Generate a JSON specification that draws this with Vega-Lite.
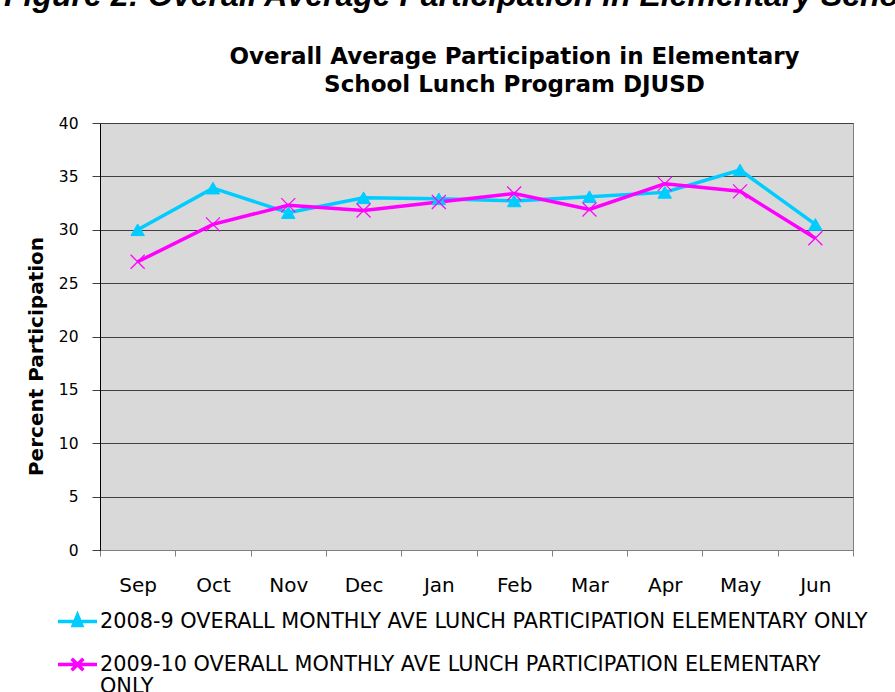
{
  "$schema": "https://vega.github.io/schema/vega-lite/v6.json",
  "width": 753,
  "height": 427,
  "autosize": {"type": "none"},
  "padding": {"left": 100, "top": 123, "right": 42, "bottom": 142},
  "background": "white",
  "title": {
    "text": "Figure 2: Overall Average Participation in Elementary School Lunch Program",
    "font": "Liberation Sans",
    "fontSize": 32,
    "fontStyle": "italic",
    "fontWeight": "bold",
    "color": "black",
    "anchor": "start",
    "frame": "group",
    "dx": -96,
    "offset": 32
  },
  "data": {
    "values": [
      {"month": "Sep", "series": "2008-9 OVERALL MONTHLY AVE LUNCH PARTICIPATION ELEMENTARY ONLY", "value": 30.0},
      {"month": "Oct", "series": "2008-9 OVERALL MONTHLY AVE LUNCH PARTICIPATION ELEMENTARY ONLY", "value": 33.9},
      {"month": "Nov", "series": "2008-9 OVERALL MONTHLY AVE LUNCH PARTICIPATION ELEMENTARY ONLY", "value": 31.6},
      {"month": "Dec", "series": "2008-9 OVERALL MONTHLY AVE LUNCH PARTICIPATION ELEMENTARY ONLY", "value": 33.0},
      {"month": "Jan", "series": "2008-9 OVERALL MONTHLY AVE LUNCH PARTICIPATION ELEMENTARY ONLY", "value": 32.9},
      {"month": "Feb", "series": "2008-9 OVERALL MONTHLY AVE LUNCH PARTICIPATION ELEMENTARY ONLY", "value": 32.7},
      {"month": "Mar", "series": "2008-9 OVERALL MONTHLY AVE LUNCH PARTICIPATION ELEMENTARY ONLY", "value": 33.1},
      {"month": "Apr", "series": "2008-9 OVERALL MONTHLY AVE LUNCH PARTICIPATION ELEMENTARY ONLY", "value": 33.5},
      {"month": "May", "series": "2008-9 OVERALL MONTHLY AVE LUNCH PARTICIPATION ELEMENTARY ONLY", "value": 35.6},
      {"month": "Jun", "series": "2008-9 OVERALL MONTHLY AVE LUNCH PARTICIPATION ELEMENTARY ONLY", "value": 30.5},
      {"month": "Sep", "series": "2009-10 OVERALL MONTHLY AVE LUNCH PARTICIPATION ELEMENTARY ONLY", "value": 27.0},
      {"month": "Oct", "series": "2009-10 OVERALL MONTHLY AVE LUNCH PARTICIPATION ELEMENTARY ONLY", "value": 30.5},
      {"month": "Nov", "series": "2009-10 OVERALL MONTHLY AVE LUNCH PARTICIPATION ELEMENTARY ONLY", "value": 32.3},
      {"month": "Dec", "series": "2009-10 OVERALL MONTHLY AVE LUNCH PARTICIPATION ELEMENTARY ONLY", "value": 31.8},
      {"month": "Jan", "series": "2009-10 OVERALL MONTHLY AVE LUNCH PARTICIPATION ELEMENTARY ONLY", "value": 32.6},
      {"month": "Feb", "series": "2009-10 OVERALL MONTHLY AVE LUNCH PARTICIPATION ELEMENTARY ONLY", "value": 33.4},
      {"month": "Mar", "series": "2009-10 OVERALL MONTHLY AVE LUNCH PARTICIPATION ELEMENTARY ONLY", "value": 31.9},
      {"month": "Apr", "series": "2009-10 OVERALL MONTHLY AVE LUNCH PARTICIPATION ELEMENTARY ONLY", "value": 34.3},
      {"month": "May", "series": "2009-10 OVERALL MONTHLY AVE LUNCH PARTICIPATION ELEMENTARY ONLY", "value": 33.6},
      {"month": "Jun", "series": "2009-10 OVERALL MONTHLY AVE LUNCH PARTICIPATION ELEMENTARY ONLY", "value": 29.2}
    ]
  },
  "encoding": {
    "y": {
      "field": "value",
      "type": "quantitative",
      "scale": {"domain": [0, 40], "nice": false},
      "axis": {
        "values": [0, 5, 10, 15, 20, 25, 30, 35, 40],
        "title": "Percent Participation",
        "titleFont": "DejaVu Sans",
        "titleFontSize": 20,
        "titleFontWeight": "bold",
        "titleColor": "black",
        "titleX": -57.5,
        "titleY": 233,
        "titleAngle": 270,
        "titleBaseline": "alphabetic",
        "titleAlign": "center",
        "labelFont": "DejaVu Sans",
        "labelFontSize": 15.5,
        "labelColor": "black",
        "labelPadding": 14,
        "tickSize": 8,
        "tickColor": "#404040",
        "domainColor": "black",
        "grid": true,
        "gridColor": "#404040",
        "gridWidth": 1
      }
    }
  },
  "layer": [
    {
      "mark": {"type": "line", "strokeWidth": 3.5},
      "encoding": {
        "x": {
          "field": "month",
          "type": "nominal",
          "sort": ["Sep", "Oct", "Nov", "Dec", "Jan", "Feb", "Mar", "Apr", "May", "Jun"],
          "scale": {"type": "band", "paddingInner": 0, "paddingOuter": 0},
          "axis": {
            "orient": "bottom",
            "title": null,
            "labelAngle": 0,
            "labelFont": "DejaVu Sans",
            "labelFontSize": 20,
            "labelColor": "black",
            "labelPadding": 19,
            "tickSize": 6,
            "tickColor": "#808080",
            "domainColor": "#808080",
            "tickBand": "extent",
            "grid": false
          }
        },
        "stroke": {
          "field": "series",
          "type": "nominal",
          "scale": {
            "domain": ["2008-9 OVERALL MONTHLY AVE LUNCH PARTICIPATION ELEMENTARY ONLY", "2009-10 OVERALL MONTHLY AVE LUNCH PARTICIPATION ELEMENTARY ONLY"],
            "range": ["#00CCFF", "#FF00FF"]
          }
        }
      }
    },
    {
      "transform": [{"filter": "indexof(datum.series, '2008') === 0"}],
      "mark": {"type": "point", "shape": "triangle-up", "size": 180, "filled": true, "fill": "#00CCFF", "stroke": "#00CCFF", "strokeWidth": 1, "opacity": 1},
      "encoding": {
        "x": {
          "field": "month",
          "type": "nominal",
          "sort": ["Sep", "Oct", "Nov", "Dec", "Jan", "Feb", "Mar", "Apr", "May", "Jun"],
          "scale": {"type": "band", "paddingInner": 0, "paddingOuter": 0},
          "axis": null
        }
      }
    },
    {
      "transform": [{"filter": "indexof(datum.series, '2009') === 0"}],
      "mark": {"type": "point", "shape": "M-1,-1L1,1M-1,1L1,-1", "size": 196, "filled": false, "stroke": "#FF00FF", "strokeWidth": 1.2, "opacity": 1},
      "encoding": {
        "x": {
          "field": "month",
          "type": "nominal",
          "sort": ["Sep", "Oct", "Nov", "Dec", "Jan", "Feb", "Mar", "Apr", "May", "Jun"],
          "scale": {"type": "band", "paddingInner": 0, "paddingOuter": 0},
          "axis": null
        }
      }
    },
    {
      "mark": {"type": "point", "size": 1521, "strokeWidth": 3.5, "opacity": 0, "filled": true},
      "encoding": {
        "x": {
          "field": "month",
          "type": "nominal",
          "sort": ["Sep", "Oct", "Nov", "Dec", "Jan", "Feb", "Mar", "Apr", "May", "Jun"],
          "scale": {"type": "band", "paddingInner": 0, "paddingOuter": 0},
          "axis": {
            "orient": "top",
            "labels": false,
            "ticks": false,
            "domain": false,
            "grid": false,
            "title": ["Overall Average Participation in Elementary", "School Lunch Program DJUSD"],
            "titleFont": "DejaVu Sans",
            "titleFontSize": 23,
            "titleFontWeight": "bold",
            "titleColor": "black",
            "titleX": 414,
            "titleY": -60,
            "titleAlign": "center",
            "titleBaseline": "alphabetic",
            "titleLineHeight": 28
          }
        },
        "stroke": {
          "field": "series",
          "type": "nominal",
          "legend": {
            "orient": "none", "legendX": -44, "legendY": 477, "title": null, "direction": "vertical",
            "labelExpr": "indexof(datum.label, '2009') === 0 ? ['\\u00a02009-10 OVERALL MONTHLY AVE LUNCH PARTICIPATION ELEMENTARY', 'ONLY'] : datum.label"
          }
        },
        "fill": {
          "field": "series",
          "type": "nominal",
          "scale": {
            "domain": ["2008-9 OVERALL MONTHLY AVE LUNCH PARTICIPATION ELEMENTARY ONLY", "2009-10 OVERALL MONTHLY AVE LUNCH PARTICIPATION ELEMENTARY ONLY"],
            "range": ["#00CCFF", "transparent"]
          },
          "legend": {
            "orient": "none", "legendX": -44, "legendY": 477, "title": null, "direction": "vertical",
            "labelExpr": "indexof(datum.label, '2009') === 0 ? ['\\u00a02009-10 OVERALL MONTHLY AVE LUNCH PARTICIPATION ELEMENTARY', 'ONLY'] : datum.label"
          }
        },
        "shape": {
          "field": "series",
          "type": "nominal",
          "scale": {
            "domain": ["2008-9 OVERALL MONTHLY AVE LUNCH PARTICIPATION ELEMENTARY ONLY", "2009-10 OVERALL MONTHLY AVE LUNCH PARTICIPATION ELEMENTARY ONLY"],
            "range": ["M-1,0H1M0,-0.33L0.22,0.2L-0.22,0.2Z", "M-1,0H1M-0.3,-0.3L0.3,0.3M-0.3,0.3L0.3,-0.3"]
          },
          "legend": {
            "orient": "none", "legendX": -44, "legendY": 477, "title": null, "direction": "vertical",
            "labelExpr": "indexof(datum.label, '2009') === 0 ? ['\\u00a02009-10 OVERALL MONTHLY AVE LUNCH PARTICIPATION ELEMENTARY', 'ONLY'] : datum.label"
          }
        }
      }
    }
  ],
  "resolve": {"axis": {"x": "independent"}},
  "config": {
    "view": {"fill": "#D9D9D9", "stroke": "#808080", "strokeWidth": 1},
    "font": "DejaVu Sans",
    "legend": {
      "labelFont": "DejaVu Sans",
      "labelFontSize": 20.8,
      "labelColor": "black",
      "labelLimit": 900,
      "symbolStrokeWidth": 3.5,
      "symbolSize": 1521,
      "symbolOpacity": 1,
      "rowPadding": 10,
      "padding": 0,
      "labelOffset": 1
    }
  }
}
